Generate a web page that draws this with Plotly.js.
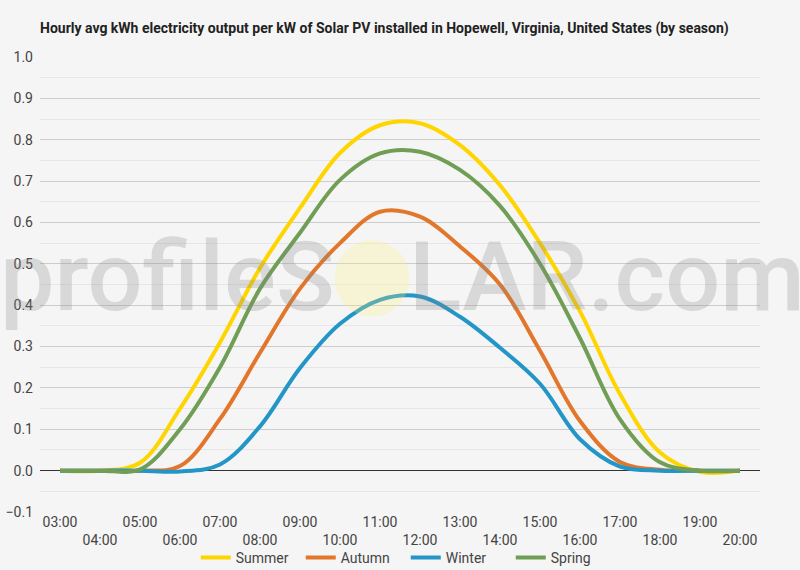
<!DOCTYPE html>
<html>
<head>
<meta charset="utf-8">
<script src="https://cdn.plot.ly/plotly-3.0.1.min.js"></script>
<style>
  html, body { margin: 0; padding: 0; background: #f5f5f5; }
  #myDiv { width: 800px; height: 570px; }
</style>
</head>
<body>
<div id="myDiv"></div>
<script>
var hours = ['03:00','04:00','05:00','06:00','07:00','08:00','09:00','10:00','11:00',
             '12:00','13:00','14:00','15:00','16:00','17:00','18:00','19:00','20:00'];

var summer = [0, 0, 0.019, 0.15, 0.31, 0.49, 0.635, 0.768, 0.835, 0.84, 0.787, 0.69, 0.55, 0.385, 0.185, 0.044, -0.003, 0];
var autumn = [0, 0, 0, 0.011, 0.125, 0.285, 0.44, 0.55, 0.626, 0.614, 0.542, 0.45, 0.29, 0.12, 0.021, 0.002, 0, 0];
var winter = [0, 0, 0, -0.002, 0.015, 0.107, 0.248, 0.355, 0.413, 0.421, 0.372, 0.297, 0.21, 0.076, 0.01, 0, 0, 0];
var spring = [0, 0, 0.003, 0.10, 0.25, 0.44, 0.575, 0.703, 0.767, 0.771, 0.727, 0.64, 0.50, 0.32, 0.124, 0.02, 0, 0];

var seriesNames = ['Summer', 'Autumn', 'Winter', 'Spring'];
var seriesColors = ['#FFD500', '#E2772C', '#2396C7', '#719E55'];
var seriesValues = [summer, autumn, winter, spring];

// staggered tick labels: every other one drops to a second row
var tickText = hours.map(function(h, i){ return i % 2 ? ' <br>' + h : h; });

var data = seriesNames.map(function(name, i){
  return {
    x: hours, y: seriesValues[i], name: name,
    type: 'scatter', mode: 'lines',
    line: {color: seriesColors[i], width: 4, shape: 'spline', smoothing: 1}
  };
});

var wmFont = {family: 'Roboto, sans-serif', size: 97, weight: 500, color: 'rgba(130,130,130,0.25)'};

var layout = {
  width: 800, height: 570,
  paper_bgcolor: '#f5f5f5', plot_bgcolor: '#f5f5f5',
  font: {family: 'Roboto, sans-serif', size: 14, color: '#444'},
  margin: {l: 40, r: 40, t: 57, b: 58, autoexpand: false},
  title: {text: '<b>Hourly avg kWh electricity output per kW of Solar PV installed in Hopewell, Virginia, United States (by season)</b>',
          font: {family: 'Roboto, sans-serif', size: 14, color: '#222'},
          x: 0.05, xanchor: 'left', y: 0.951, yanchor: 'middle'},
  xaxis: {type: 'category', range: [-0.5, 17.5], tickmode: 'array', tickvals: hours, ticktext: tickText,
          showgrid: false, zeroline: false, showline: false, ticks: '', fixedrange: true},
  yaxis: {range: [-0.1, 1.0], dtick: 0.1, tickformat: '.1f', showgrid: true, gridcolor: '#cccccc',
          zeroline: true, zerolinecolor: '#333', zerolinewidth: 1,
          minor: {dtick: 0.05, showgrid: true, gridcolor: '#e6e6e6'},
          ticks: '', ticklabelstandoff: 6, fixedrange: true},
  showlegend: true,
  legend: {orientation: 'h', x: 0.508, xanchor: 'center', y: -0.101, yanchor: 'middle',
           entrywidth: 60, bgcolor: 'rgba(0,0,0,0)', font: {size: 14, color: '#444'}},
  shapes: [{type: 'circle', xref: 'paper', yref: 'paper', layer: 'above',
            x0: 0.409, x1: 0.513, y0: 0.43, y1: 0.597,
            fillcolor: 'rgba(255,238,120,0.25)', line: {width: 0}}],
  annotations: [
    {xref: 'paper', yref: 'paper', x: 0.412, y: 0.516, xanchor: 'right', yanchor: 'middle', showarrow: false,
     text: 'profileS', font: wmFont},
    {xref: 'paper', yref: 'paper', x: 0.51, y: 0.516, xanchor: 'left', yanchor: 'middle', showarrow: false,
     text: 'LAR.com', font: wmFont}
  ]
};

Plotly.newPlot('myDiv', data, layout, {displayModeBar: false, staticPlot: true});
</script>
</body>
</html>
